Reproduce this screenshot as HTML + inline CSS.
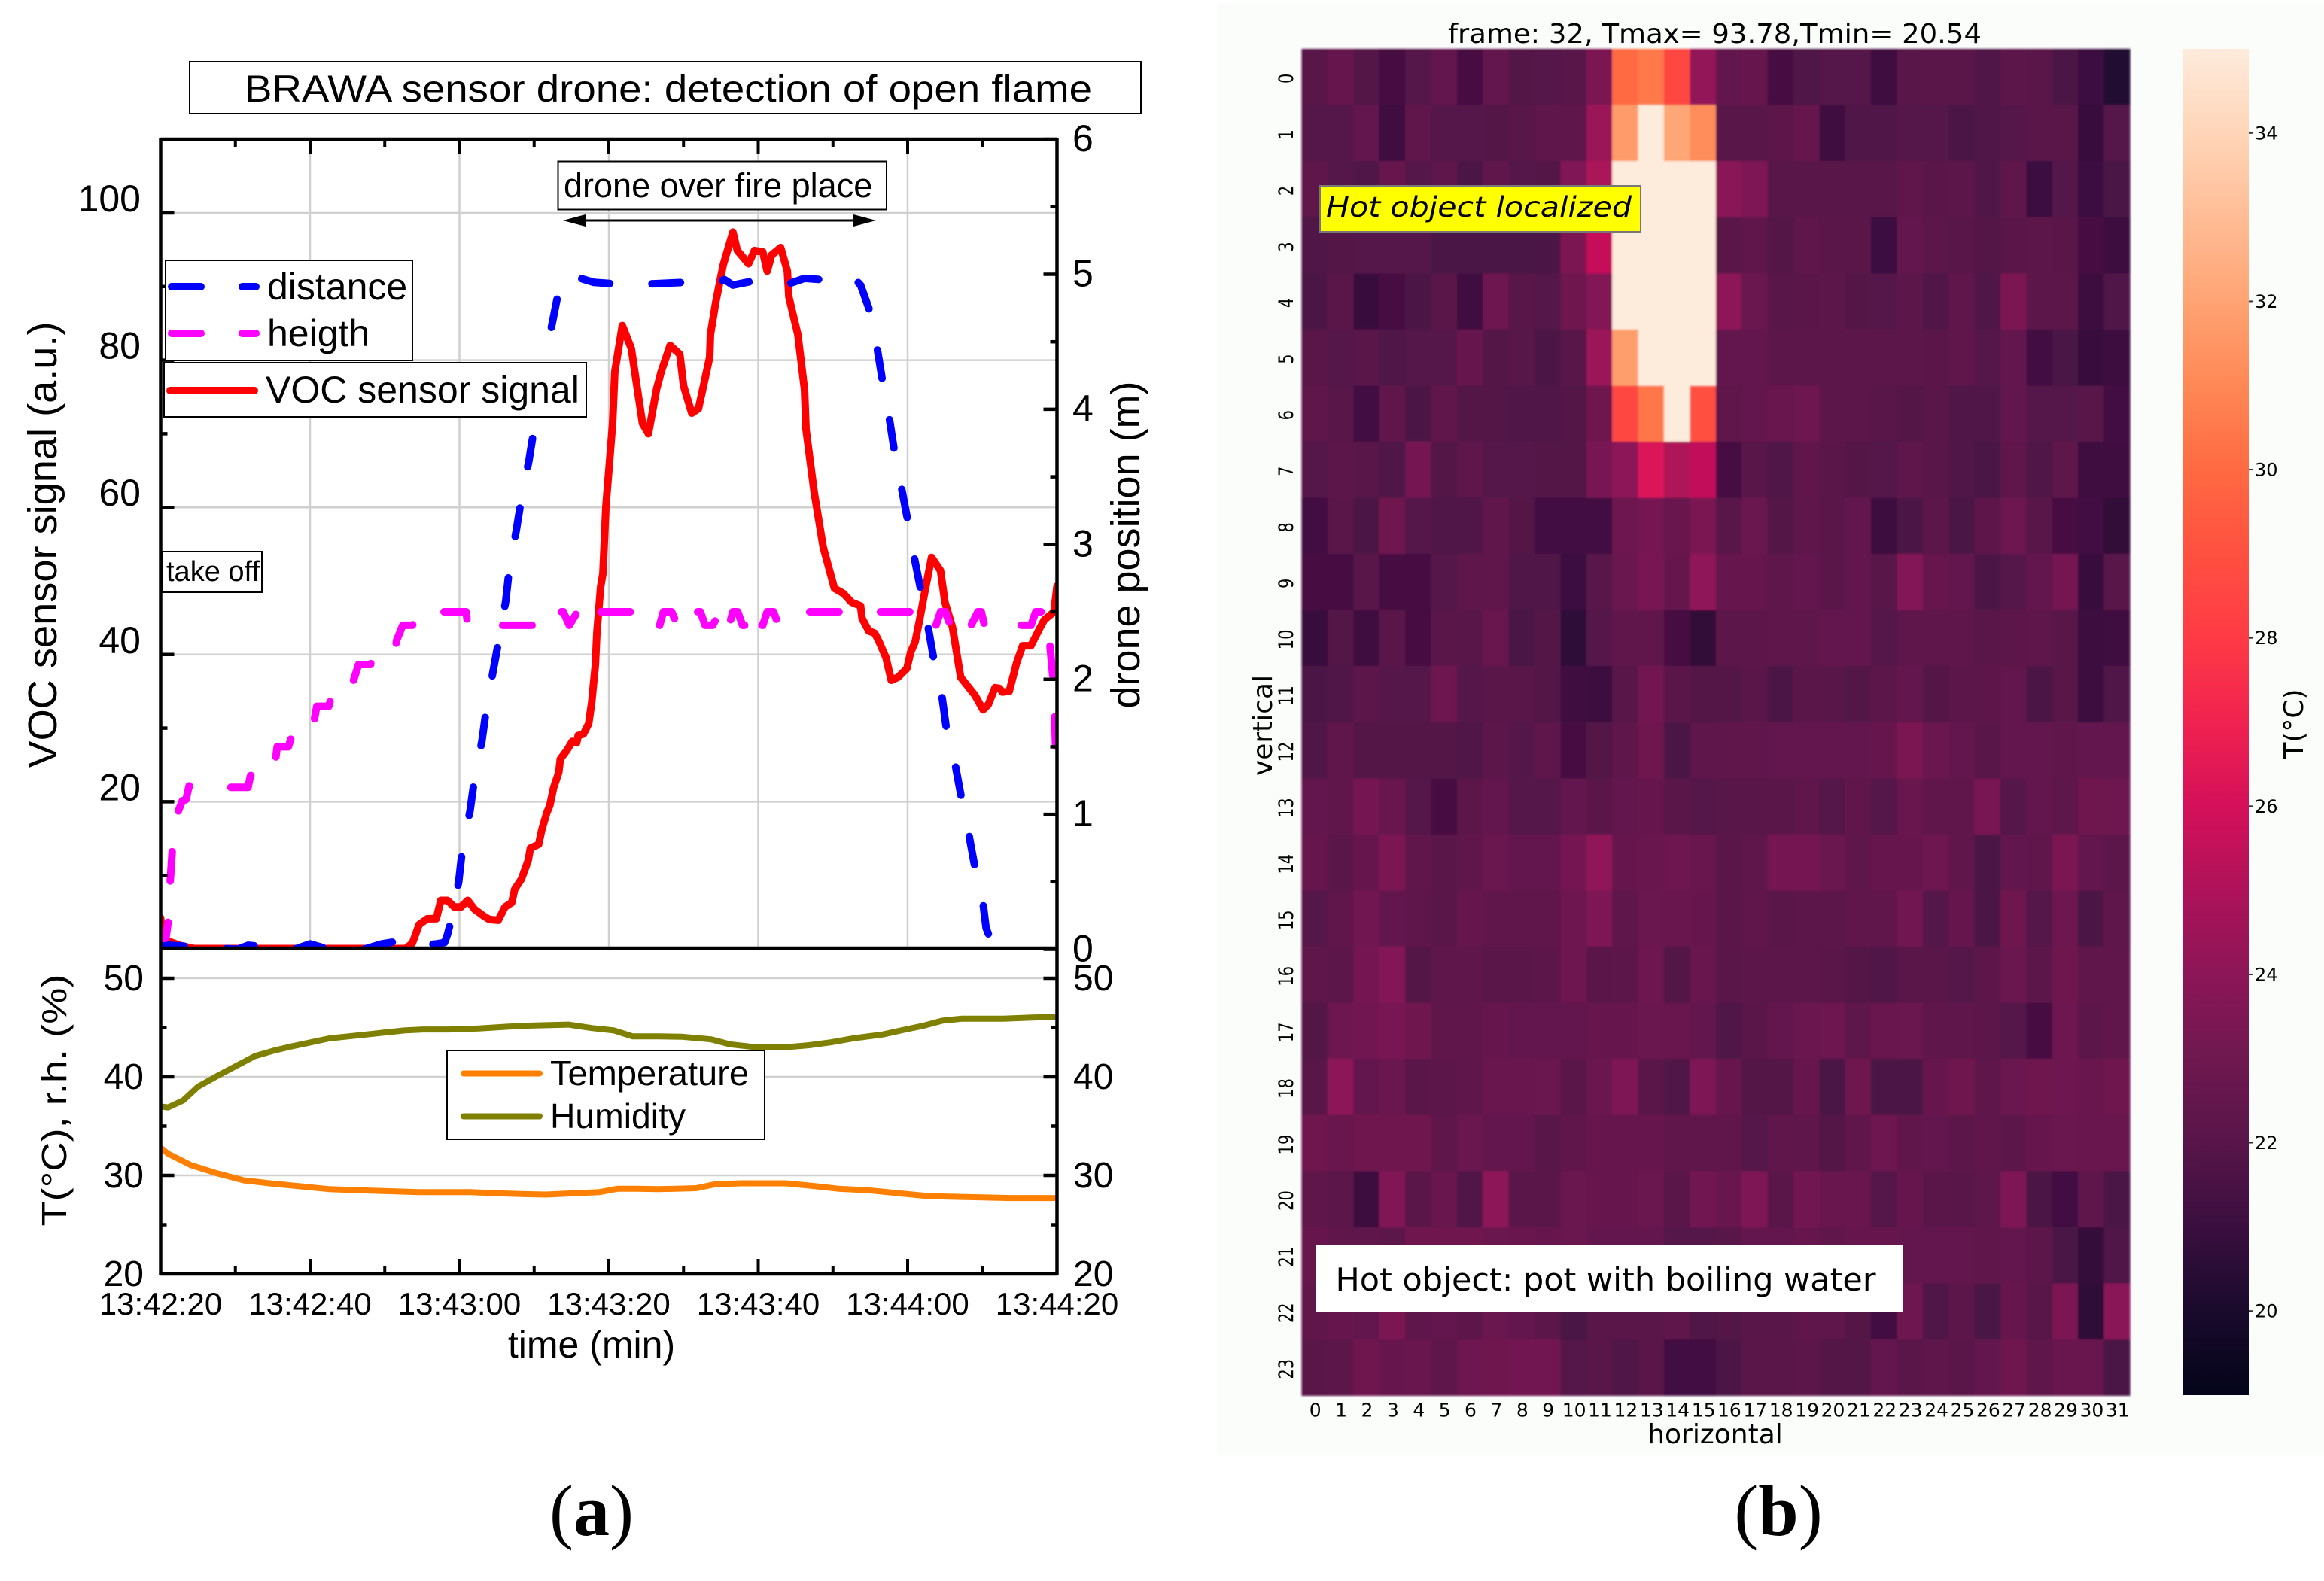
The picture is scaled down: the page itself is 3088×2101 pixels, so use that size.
<!DOCTYPE html>
<html lang="en">
<head>
<meta charset="utf-8">
<title>BRAWA sensor drone: detection of open flame</title>
<style>
html,body{margin:0;padding:0;background:#fff;}
svg{display:block;}
text{font-family:"Liberation Sans",sans-serif;fill:#000;}
.dj{font-family:"DejaVu Sans",sans-serif;}
.serif{font-family:"Liberation Serif",serif;font-weight:bold;}
</style>
</head>
<body>
<svg id="fig" xmlns="http://www.w3.org/2000/svg" width="3088" height="2101" viewBox="0 0 3088 2101">
  <defs>
    <clipPath id="upper-clip"><rect x="213.5" y="185" width="1191" height="1075"/></clipPath>
    <clipPath id="lower-clip"><rect x="213.5" y="1260" width="1191" height="433"/></clipPath>
    <linearGradient id="cbar-grad" x1="0" y1="1" x2="0" y2="0"></linearGradient>
    <filter id="soft" x="-1%" y="-1%" width="102%" height="102%"><feGaussianBlur stdDeviation="1.2"/></filter>
  </defs>
  <rect x="0" y="0" width="3088" height="2101" fill="#fff"/>
  <rect x="1619" y="4" width="1469" height="1930" fill="#fbfdfb"/>

  <g id="grid-layer"></g>
  <g id="voc-layer" clip-path="url(#upper-clip)"></g>
  <g id="pos-layer" clip-path="url(#upper-clip)"></g>
  <g id="env-layer" clip-path="url(#lower-clip)"></g>
  <g id="tick-layer"></g>
  <g stroke="#000" stroke-width="4.5" fill="none">
    <line x1="213.5" y1="183" x2="213.5" y2="1695"/>
    <line x1="1404.5" y1="183" x2="1404.5" y2="1695"/>
    <line x1="213.5" y1="185" x2="1404.5" y2="185"/>
    <line x1="213.5" y1="1260" x2="1404.5" y2="1260"/>
    <line x1="213.5" y1="1693" x2="1404.5" y2="1693"/>
  </g>
  <g id="label-layer"></g>

  <!-- Chart (a) annotations -->
  <rect x="252" y="82" width="1264" height="69" fill="#fff" stroke="#000" stroke-width="2"/>
  <text x="325" y="135" font-size="50" textLength="1126" lengthAdjust="spacingAndGlyphs">BRAWA sensor drone: detection of open flame</text>

  <text transform="translate(75,724) rotate(-90)" text-anchor="middle" font-size="54" textLength="593" lengthAdjust="spacingAndGlyphs">VOC sensor signal (a.u.)</text>
  <text transform="translate(1514,724) rotate(-90)" text-anchor="middle" font-size="54" textLength="435" lengthAdjust="spacingAndGlyphs">drone position (m)</text>
  <text transform="translate(88,1462) rotate(-90)" text-anchor="middle" font-size="46" textLength="335" lengthAdjust="spacingAndGlyphs">T(°C), r.h. (%)</text>
  <text x="786" y="1804" text-anchor="middle" font-size="50">time (min)</text>

  <g>
    <rect x="220" y="346" width="328" height="133" fill="#fff" stroke="#000" stroke-width="2"/>
    <g stroke="#0000ff" stroke-width="10" stroke-linecap="round">
      <line x1="228" y1="381" x2="267" y2="381"/>
      <line x1="322" y1="381" x2="340" y2="381"/>
    </g>
    <text x="355" y="398" font-size="50">distance</text>
    <g stroke="#ff00ff" stroke-width="10" stroke-linecap="round">
      <line x1="228" y1="443" x2="267" y2="443"/>
      <line x1="322" y1="443" x2="340" y2="443"/>
    </g>
    <text x="355" y="460" font-size="50">heigth</text>
  </g>
  <g>
    <rect x="218" y="482" width="561" height="72" fill="#fff" stroke="#000" stroke-width="2"/>
    <line x1="226" y1="519" x2="338" y2="519" stroke="#ff0000" stroke-width="10" stroke-linecap="round"/>
    <text x="353" y="535" font-size="50">VOC sensor signal</text>
  </g>
  <g>
    <rect x="216" y="733" width="132" height="54" fill="#fff" stroke="#000" stroke-width="2"/>
    <text x="221" y="772" font-size="38">take off</text>
  </g>
  <g>
    <rect x="741.5" y="214.5" width="436.5" height="64" fill="#fff" stroke="#000" stroke-width="2"/>
    <text x="749" y="262" font-size="45">drone over fire place</text>
    <line x1="770" y1="293" x2="1140" y2="293" stroke="#000" stroke-width="3"/>
    <polygon points="748,293 778,285 778,301" fill="#000"/>
    <polygon points="1164,293 1134,285 1134,301" fill="#000"/>
  </g>
  <g>
    <rect x="594" y="1396" width="422" height="118" fill="#fff" stroke="#000" stroke-width="2"/>
    <line x1="616" y1="1426.5" x2="717" y2="1426.5" stroke="#ff8000" stroke-width="8" stroke-linecap="round"/>
    <text x="731" y="1442" font-size="46" textLength="264" lengthAdjust="spacingAndGlyphs">Temperature</text>
    <line x1="616" y1="1483.5" x2="717" y2="1483.5" stroke="#808000" stroke-width="8" stroke-linecap="round"/>
    <text x="731" y="1499" font-size="46" textLength="180" lengthAdjust="spacingAndGlyphs">Humidity</text>
  </g>
  <text class="serif" x="786" y="2040" text-anchor="middle" font-size="96"><tspan font-weight="normal">(</tspan>a<tspan font-weight="normal">)</tspan></text>

  <!-- Chart (b) -->
  <text class="dj" x="1924" y="57" font-size="36" textLength="709" lengthAdjust="spacingAndGlyphs">frame: 32, Tmax= 93.78,Tmin= 20.54</text>
  <g id="heat-layer" shape-rendering="crispEdges" filter="url(#soft)"></g>
  <g id="heat-label-layer"></g>
  <rect x="2900" y="65" width="89" height="1789" fill="url(#cbar-grad)"/>
  <g id="cbar-layer"></g>
  <text class="dj" transform="translate(3060,962) rotate(-90)" text-anchor="middle" font-size="36">T(°C)</text>
  <text class="dj" transform="translate(1690,964) rotate(-90)" text-anchor="middle" font-size="36">vertical</text>
  <text class="dj" x="2279" y="1918" text-anchor="middle" font-size="36">horizontal</text>

  <g>
    <rect x="1754" y="247" width="426" height="61" fill="#ffff00" stroke="#777" stroke-width="2"/>
    <text class="dj" x="1762" y="288" font-size="37" font-style="italic" textLength="406" lengthAdjust="spacingAndGlyphs">Hot object localized</text>
  </g>
  <g>
    <rect x="1748" y="1655" width="780" height="89" fill="#fff"/>
    <text class="dj" x="1774.5" y="1715" font-size="42" textLength="718" lengthAdjust="spacingAndGlyphs">Hot object: pot with boiling water</text>
  </g>
  <text class="serif" x="2363" y="2040" text-anchor="middle" font-size="96"><tspan font-weight="normal">(</tspan>b<tspan font-weight="normal">)</tspan></text>
</svg>

<script>
// ---- Chart (a) data ----
const xTickSeconds = [0, 20, 40, 60, 80, 100, 120];
const xTickLabels = ["13:42:20", "13:42:40", "13:43:00", "13:43:20", "13:43:40", "13:44:00", "13:44:20"];
const xMinorSeconds = [10, 30, 50, 70, 90, 110];
const vocTicks = [20, 40, 60, 80, 100];
const vocMinorTicks = [10, 30, 50, 70, 90];
const positionTicks = [0, 1, 2, 3, 4, 5, 6];
const positionMinorTicks = [0.5, 1.5, 2.5, 3.5, 4.5, 5.5];
const envTicks = [20, 30, 40, 50];
const envMinorTicks = [25, 35, 45];

const vocTimes = [0, 0.2, 1.3, 2.7, 4.5, 32.8, 33.7, 34.6, 35.7, 36.9, 37.5, 38.4, 39.3, 40.2, 41.1, 42, 43.2, 44, 45.2, 46.1, 47, 47.4, 48.3, 49.2, 49.5, 50.6, 51, 51.7, 52.1, 52.6, 53.3, 53.5, 54.4, 55.1, 55.7, 55.9, 56.6, 57.3, 57.7, 58.2, 58.4, 58.9, 59.2, 59.6, 60.5, 60.8, 61.8, 63, 64.5, 65.3, 66.4, 67, 68.2, 69.5, 70, 71.1, 72, 73.5, 73.6, 74.3, 75.3, 76.6, 77.2, 78.7, 79.5, 80.6, 81.2, 81.8, 83, 83.9, 84.1, 85.3, 86.2, 86.4, 87.5, 88.7, 90.2, 91.4, 92.5, 93.7, 93.9, 94.8, 95.6, 96.2, 97.1, 97.8, 98.7, 99.9, 100.4, 101, 101.6, 102.3, 103.2, 104.4, 105, 106, 107.1, 109, 110.1, 110.8, 111.7, 112.3, 112.7, 113.6, 114.6, 115.4, 116.5, 117.7, 118.3, 119.6, 120];
const vocValues = [4.2, 1.5, 0.95, 0.44, 0.05, 0.05, 0.8, 3.3, 4.1, 4.1, 6.6, 6.6, 5.7, 5.7, 6.6, 5.4, 4.5, 4, 3.9, 5.7, 6.3, 8.1, 9.5, 12, 13.7, 14.2, 16.1, 18.5, 19.5, 21.9, 24, 25.8, 27, 28.2, 28, 29, 29.2, 30.6, 33.5, 38.6, 43, 49.2, 51, 60, 71.4, 78.4, 84.7, 81.6, 71.4, 70, 76.1, 78.4, 82, 80.8, 76.5, 72.8, 73.4, 80.4, 83.5, 87.8, 92.9, 97.4, 94.9, 93.1, 94.9, 94.7, 92.1, 94.3, 95.3, 92.1, 88.6, 83.5, 76, 70.6, 62, 54.6, 49, 48.3, 47.1, 46.6, 44.9, 43.2, 42.9, 41.7, 39.6, 36.5, 36.9, 38.1, 40.3, 41.7, 44.7, 48.5, 53.2, 51.4, 47.1, 43.7, 36.9, 34.5, 32.5, 33.2, 35.5, 35.4, 34.9, 35, 38.9, 41.2, 41.2, 43.6, 44.7, 45.8, 49.3];

const distanceTimes = [0, 1.1, 4, 10.3, 11.7, 13.5, 14.2, 17.9, 20, 22.5, 27.2, 29.6, 31.9, 33.3, 36.9, 38, 38.4, 38.9, 39.9, 40.4, 41.4, 42, 43, 43.6, 44.5, 45.3, 46.2, 46.7, 47.6, 48.3, 49.3, 50, 51.5, 52.5, 53.4, 54.6, 56.8, 58, 60.7, 66, 70, 74.9, 75.5, 76.6, 79.3, 84.1, 86.2, 88.6, 92.7, 93.7, 94.8, 95.9, 96.6, 97.5, 98.2, 99.1, 100, 100.9, 102.7, 103.5, 104.6, 105.2, 106.4, 107.2, 108.2, 109, 110.1, 110.5, 110.9, 111.6];
const distanceValues = [0.02, 0.03, 0.02, 0, 0.03, 0.02, 0, 0, 0.04, 0, 0, 0.04, 0.06, 0.02, 0.04, 0.05, 0.11, 0.22, 0.5, 0.75, 1.02, 1.26, 1.54, 1.78, 2.06, 2.3, 2.58, 2.83, 3.1, 3.34, 3.62, 3.86, 4.39, 4.66, 4.91, 5.0, 4.96, 4.94, 4.93, 4.93, 4.94, 4.95, 4.96, 4.92, 4.95, 4.93, 4.97, 4.96, 4.98, 4.92, 4.75, 4.46, 4.22, 3.95, 3.7, 3.44, 3.18, 2.9, 2.4, 2.15, 1.87, 1.63, 1.36, 1.12, 0.85, 0.61, 0.34, 0.16, 0.1, 0];

const heightTimes = [0, 0.7, 1, 1.25, 1.56, 2.2, 2.9, 3.4, 3.8, 4.1, 11.7, 12, 12.2, 15.2, 15.4, 15.6, 17.1, 17.5, 17.8, 20.5, 20.6, 20.9, 22.5, 22.8, 23, 25.6, 25.8, 26.5, 28.1, 28.3, 28.6, 31.3, 31.6, 32.4, 33.7, 33.9, 34.2, 40.9, 41.1, 52, 52.2, 53.9, 54.7, 55.8, 57, 57.1, 57.2, 63.8, 64, 66.8, 67.3, 68.4, 68.8, 68.9, 70.5, 70.7, 72.25, 72.9, 73.9, 74.3, 74.7, 75.3, 75.5, 76, 76.3, 76.6, 77.25, 77.9, 79, 79.2, 79.4, 80.6, 81.2, 82.05, 82.6, 84, 85, 101.5, 101.6, 101.7, 102.8, 103, 103.8, 104.4, 105.05, 105.7, 106.5, 106.6, 106.7, 108.5, 109.4, 109.85, 110.25, 110.4, 112, 112.1, 112.2, 115.3, 116.5, 117.15, 118, 118.8, 119.05, 119.45, 119.7, 119.8, 120];
const heightValues = [0.03, 0.08, 0.2, 0.48, 0.74, 1, 1.1, 1.11, 1.21, 1.2, 1.2, 1.28, 1.3, 1.3, 1.41, 1.5, 1.5, 1.57, 1.6, 1.6, 1.71, 1.8, 1.8, 1.86, 1.9, 1.9, 1.99, 2.11, 2.11, 2.15, 2.2, 2.2, 2.29, 2.4, 2.4, 2.42, 2.5, 2.5, 2.4, 2.4, 2.5, 2.5, 2.4, 2.5, 2.5, 2.44, 2.5, 2.5, 2.4, 2.4, 2.5, 2.5, 2.45, 2.4, 2.4, 2.5, 2.5, 2.4, 2.4, 2.44, 2.5, 2.5, 2.38, 2.4, 2.44, 2.5, 2.5, 2.4, 2.4, 2.5, 2.4, 2.4, 2.5, 2.5, 2.42, 2.42, 2.5, 2.5, 2.485, 2.5, 2.5, 2.4, 2.4, 2.5, 2.5, 2.4, 2.4, 2.465, 2.4, 2.4, 2.5, 2.5, 2.41, 2.4, 2.4, 2.415, 2.4, 2.4, 2.4, 2.5, 2.5, 2.5, 2.25, 2.015, 1.72, 1.52, 1.4];

const humidityTimes = [0, 1, 3, 5, 7.6, 10.1, 12.6, 15.1, 17.6, 20.1, 22.6, 25.1, 27.6, 30.1, 32.6, 35.1, 38.6, 42.6, 46.6, 49.6, 54.6, 57.7, 60.7, 63.2, 66.7, 69.7, 73.7, 76.2, 79.7, 83.7, 86.7, 89.7, 92.7, 96.7, 99.7, 102.2, 104.7, 107.3, 112.8, 116.3, 120];
const humidityValues = [37, 36.9, 37.6, 39, 40.1, 41.1, 42.1, 42.65, 43.1, 43.5, 43.9, 44.1, 44.3, 44.5, 44.7, 44.8, 44.8, 44.9, 45.1, 45.2, 45.3, 44.95, 44.7, 44.1, 44.1, 44.07, 43.8, 43.3, 43, 43, 43.2, 43.5, 43.9, 44.3, 44.8, 45.2, 45.7, 45.9, 45.9, 46, 46.1];
const temperatureTimes = [0, 1, 4, 7.6, 11.1, 14.6, 18.6, 22.6, 26.6, 30.6, 34.6, 41.6, 44.6, 48.6, 51.6, 55.6, 58.7, 61.2, 63.7, 66.7, 71.7, 74.2, 77.7, 83.7, 87.7, 90.7, 94.7, 98.7, 102.7, 107.8, 113.8, 120];
const temperatureValues = [32.8, 32.2, 31.05, 30.2, 29.5, 29.2, 28.9, 28.6, 28.5, 28.4, 28.3, 28.3, 28.2, 28.1, 28.05, 28.2, 28.3, 28.65, 28.65, 28.6, 28.7, 29.1, 29.2, 29.2, 28.9, 28.65, 28.5, 28.2, 27.9, 27.8, 27.7, 27.7];

// ---- Chart (b) data (deg C) ----
const heatRowLabels = ["0","1","2","3","4","5","6","7","8","9","10","11","12","13","14","15","16","17","18","19","20","21","22","23"];
const heatColLabels = ["0","1","2","3","4","5","6","7","8","9","10","11","12","13","14","15","16","17","18","19","20","21","22","23","24","25","26","27","28","29","30","31"];
const heatRow00 = [22,22.6,21.8,21.4,21.9,22.5,21.4,22.5,21.8,21.9,22,23.4,30,30.5,28.6,24.2,22.5,22.6,21.4,21.7,21.9,21.9,21.2,22,22.1,22.1,21.7,22.2,22.1,21.6,21,20.2];
const heatRow01 = [21.9,21.9,22.5,21.2,22.4,21.9,21.9,21.8,22,22.3,22.3,24.4,31.7,35,32.1,31.2,22,22,22.2,22.6,21.2,21.7,21.7,21.9,21.9,21.6,21.7,21.9,22.1,22,20.9,21.9];
const heatRow02 = [22.3,21.9,21.7,22.6,21.9,22.3,21.6,22.4,21.9,21.8,23.6,24.9,35,35,35,35,23.9,23.5,22,22,22,22,22,22.4,22.1,22.2,21.7,22.4,21,21.9,21,21.5];
const heatRow03 = [21.7,21.8,21.9,21.9,21.9,21.5,21.5,21.5,21.5,21.6,23.4,25.6,35,35,35,35,22.1,22.4,21.8,22.3,22.1,22.1,21,22.5,22.2,22,21.8,22.1,22.2,22.1,21.4,21.1];
const heatRow04 = [21.6,22.1,20.9,21.4,21.6,22.1,21.2,22.9,22,21.9,23,23.7,35,35,35,35,24,22.8,22,22.1,22.2,21.8,21.9,22.2,21.7,22.4,21.7,23.4,22.2,22.2,21.1,21.7];
const heatRow05 = [22.1,21.9,22.1,21.7,21.9,21.9,22.6,21.8,22,21.6,22,24.4,31.8,35,35,35,22.5,22.5,22.2,22.2,22.2,22.2,22.2,22.2,22.1,22.4,21.9,22.5,21.3,21.5,20.9,21.1];
const heatRow06 = [22.3,22,21.3,22.4,21.6,22.4,21.8,21.8,21.7,21.7,21.8,23,28.6,30.4,35,29,22.4,22.5,22.7,22.9,22.2,22.2,22,21.8,22.1,21.7,21.7,22.5,21.9,21.9,22,21.3];
const heatRow07 = [21.9,22.2,22,21.7,23.2,21.8,22.3,21.9,21.9,21.8,21.8,23.3,24,26.2,25,25.5,21.4,22,21.7,22.4,22.1,21.8,21.9,22.3,22,21.7,21.5,22.4,21.7,22.3,21.2,21.2];
const heatRow08 = [21.3,22.1,21.6,23,21.9,21.7,21.7,22.4,21.8,21.3,21.3,21.3,22.9,23.2,22.7,23.4,22,22.8,21.8,22.3,22.1,22.5,21.1,21.6,22.2,21.5,22.2,22.9,22,21.4,21.3,20.7];
const heatRow09 = [21.4,21.4,22,21.4,21.4,21.9,22.3,22.4,21.7,21.7,21,22,22.8,23.3,22.6,24.1,22.6,22.6,22.3,22.5,22.1,22.5,22,23.7,22.6,22.5,21.6,21.9,22.5,23.2,20.9,22];
const heatRow10 = [20.9,21.8,21.2,22.1,21.4,22.1,22,22.7,21.5,21.8,20.6,21.9,22.4,22.4,21.4,20.7,22.2,22.2,22.3,22.3,22.5,22.5,21.9,22.3,22.3,22.3,22.1,22.2,22.3,22,21.1,21.2];
const heatRow11 = [21.6,21.7,22.2,21.9,21.9,22.9,21.9,22.1,22,21.8,21.2,21.1,22,23.1,22.1,21.8,21.8,22.1,21.6,22.1,22,21.8,22.2,22.5,21.8,22.2,22.2,22.5,21.6,22,21.1,21.7];
const heatRow12 = [21.7,22.4,21.8,21.8,21.8,21.8,21.7,22.2,21.9,22.3,21.4,21.8,22.3,23,21.6,22.3,22.4,22.4,22.5,22.5,22.5,22.5,22.6,23.4,22.8,22.5,22,22.5,22.5,22.4,22.5,22.5];
const heatRow13 = [22.5,22.4,23.2,22.7,21.9,21.4,22.2,22.5,21.9,21.9,22.5,22.1,22.5,22.6,22.1,21.9,22,22,22.1,22.3,21.9,22.4,21.9,22.7,22.4,22.4,23.3,21.9,22.5,22.3,23,22.9];
const heatRow14 = [22.6,22.1,22.6,23.4,22.4,22.1,22.4,22.8,22.5,22.5,23.2,24.1,22.6,22.7,22.9,22.7,22.1,22.3,23.2,23.2,22.8,22.3,22.6,22.6,22.9,22.4,21.6,22.5,22.4,23.4,22.5,22.2];
const heatRow15 = [21.9,22.4,23.1,22.5,22.3,22.1,22.6,22.4,22.4,22.4,22.9,23.5,22.3,22.8,22.7,22.6,22.1,22.4,22.1,22.2,22.2,22.4,22.4,23.1,21.9,22.6,21.6,23,21.9,22.9,21.6,22.3];
const heatRow16 = [22.3,22.2,23.2,23.7,21.8,22.3,22.3,22.1,22.1,22.2,22.9,22.1,22.2,22.9,21.8,22.7,22.1,22.2,22.2,22.2,22.1,21.8,21.7,22.1,22.1,21.9,22.2,22.8,22.2,23,22.4,22.4];
const heatRow17 = [21.8,22.9,23.1,23.3,23,22.4,22.4,22.6,22.5,22.5,22.5,22.6,22.6,22.8,22.7,22.5,21.7,22.1,22.5,22.8,22.9,22.3,22.7,22.8,22.3,22.3,22.2,21.9,21.4,22.9,22.2,22.4];
const heatRow18 = [22,24,22.5,22.8,22.1,22.2,22.3,22.7,22.7,22.8,22.1,22.8,23.5,22.1,21.7,23.5,22.6,21.8,21.8,22.6,21.5,23,21.6,21.6,22.6,23,22.3,22.8,23,22.9,22.7,23];
const heatRow19 = [23,22.7,23,23,23,22.3,22.8,22.5,22.5,22,22.4,22.6,22.6,22.6,22.4,22.4,22.4,21.9,22.4,22.3,21.8,22.4,22.9,22.4,22.5,22.2,22.4,22.2,22.6,22.8,22.7,22.7];
const heatRow20 = [22.3,22.2,21.1,23.6,22.1,22.7,21.7,24,22.1,22.1,22.8,22.6,22.6,22.8,22.1,23.1,22.7,23.5,22.1,23.1,22.7,22.7,21.9,22.6,22.1,22,22.3,23.5,21.6,21.3,22.3,21.5];
const heatRow21 = [22.6,22.4,22.3,22.2,23,23,23,22.8,22.7,22.6,22.8,22.5,22.5,22.5,21.9,21.9,22,22.5,22.5,22.6,22.4,22.6,22.6,22.5,22.5,22.5,22.4,22.5,22.2,21.5,20.8,21.7];
const heatRow22 = [22.4,22.6,22.5,23.4,22.3,22.5,22.2,22.8,22.5,22.2,21.5,22,22.1,22.1,22.3,21.7,21.8,22,22,22.4,22.3,21.8,21.3,22.9,21.7,22.2,21.5,22.6,22,23.4,20.6,23.9];
const heatRow23 = [22.1,22.2,23,22.6,22.7,22.3,22.9,23,23.1,23.1,21.9,22,21.7,22.1,21.3,21.3,21.6,22.1,22.1,22.2,21.8,21.8,22.5,22.1,22.3,22.1,22.5,23,22.3,22.7,22.7,21.5];
const heatRows = [heatRow00,heatRow01,heatRow02,heatRow03,heatRow04,heatRow05,heatRow06,heatRow07,heatRow08,heatRow09,heatRow10,heatRow11,heatRow12,heatRow13,heatRow14,heatRow15,heatRow16,heatRow17,heatRow18,heatRow19,heatRow20,heatRow21,heatRow22,heatRow23];
const colorbarTicks = [20, 22, 24, 26, 28, 30, 32, 34];
const colormapMin = 19;
const colormapMax = 35;
const colormapColors = ["#03051a","#1a0a2c","#3a0f3f","#581549","#6f1850","#8c1658","#ae1259","#d5105a","#f0224f","#ff3a45","#ff5040","#ff6a42","#ff8856","#ffa373","#ffbd96","#ffd5b8","#fdebdc"];

// ---- Axis functions ----
const X0 = 213.5, PX_PER_SEC = 9.925;
function xTime(t) { return X0 + t * PX_PER_SEC; }
function yVoc(v) { return 1261 - v * 9.78; }
function yPosition(d) { return 1261.5 - d * 179.4; }
function yEnv(v) { return 1693 - (v - 20) * 13.1; }
const HEAT_X0 = 1729.5, HEAT_Y0 = 65, CELL_W = 1100.5 / 32, CELL_H = 1789.5 / 24;
function xCol(i) { return HEAT_X0 + i * CELL_W; }
function yRow(j) { return HEAT_Y0 + j * CELL_H; }
function yColorbar(v) { return 1854 - (v - colormapMin) * (1789 / (colormapMax - colormapMin)); }

const NS = "http://www.w3.org/2000/svg";
function mk(tag, parentId, attrs) {
  const el = document.createElementNS(NS, tag);
  for (const k in attrs) el.setAttribute(k, attrs[k]);
  document.getElementById(parentId).appendChild(el);
  return el;
}
function pointsOf(times, values, yFn) {
  return times.map(function (t, i) { return xTime(t).toFixed(1) + "," + yFn(values[i]).toFixed(1); }).join(" ");
}
function hexToRgb(h) { return [parseInt(h.substr(1, 2), 16), parseInt(h.substr(3, 2), 16), parseInt(h.substr(5, 2), 16)]; }
function heatColor(v) {
  const p = Math.max(0, Math.min(colormapColors.length - 1.001, v - colormapMin));
  const i = Math.floor(p), f = p - i;
  const a = hexToRgb(colormapColors[i]), b = hexToRgb(colormapColors[i + 1]);
  return "rgb(" + Math.round(a[0] + (b[0] - a[0]) * f) + "," + Math.round(a[1] + (b[1] - a[1]) * f) + "," + Math.round(a[2] + (b[2] - a[2]) * f) + ")";
}

// ---- Grid ----
xTickSeconds.slice(1, -1).forEach(function (t) {
  const el = mk("line", "grid-layer", { x1: xTime(t), x2: xTime(t), y1: 185, y2: 1260, stroke: "#d0d0d0", "stroke-width": 2.5 });
  
  
});
vocTicks.forEach(function (v) {
  const el = mk("line", "grid-layer", { x1: X0, x2: 1404.5, y1: yVoc(v), y2: yVoc(v), stroke: "#d0d0d0", "stroke-width": 2.5 });
  
  
});
envTicks.slice(1).forEach(function (v) {
  const el = mk("line", "grid-layer", { x1: X0, x2: 1404.5, y1: yEnv(v), y2: yEnv(v), stroke: "#d0d0d0", "stroke-width": 2.5 });
  
  
});

// ---- Series ----
const vocLine = mk("polyline", "voc-layer", { points: pointsOf(vocTimes, vocValues, yVoc), fill: "none", stroke: "#ff0000", "stroke-width": 10, "stroke-linejoin": "round", "stroke-linecap": "round" });


const heightLine = mk("polyline", "pos-layer", { points: pointsOf(heightTimes, heightValues, yPosition), fill: "none", stroke: "#ff00ff", "stroke-width": 10, "stroke-linejoin": "round", "stroke-linecap": "round", "stroke-dasharray": "39 55", "stroke-dashoffset": 6 });


const distanceLine = mk("polyline", "pos-layer", { points: pointsOf(distanceTimes, distanceValues, yPosition), fill: "none", stroke: "#0000ff", "stroke-width": 10, "stroke-linejoin": "round", "stroke-linecap": "round", "stroke-dasharray": "38 56", "stroke-dashoffset": 6.5 });


const tempLine = mk("polyline", "env-layer", { points: pointsOf(temperatureTimes, temperatureValues, yEnv), fill: "none", stroke: "#ff8000", "stroke-width": 8, "stroke-linejoin": "round" });


const humLine = mk("polyline", "env-layer", { points: pointsOf(humidityTimes, humidityValues, yEnv), fill: "none", stroke: "#808000", "stroke-width": 8, "stroke-linejoin": "round" });



// ---- Ticks ----
function tick(x1, y1, x2, y2, w) {
  const el = mk("line", "tick-layer", { x1: x1, y1: y1, x2: x2, y2: y2, stroke: "#000", "stroke-width": w });
  
  
}
xTickSeconds.slice(1, -1).forEach(function (t) {
  tick(xTime(t), 185, xTime(t), 205, 4);
  tick(xTime(t), 1693, xTime(t), 1673, 4);
});
xMinorSeconds.forEach(function (t) {
  tick(xTime(t), 185, xTime(t), 195, 4);
  tick(xTime(t), 1693, xTime(t), 1683, 4);
});
vocTicks.forEach(function (v) { tick(X0, yVoc(v), X0 + 18, yVoc(v), 4.5); });
vocMinorTicks.forEach(function (v) { tick(X0, yVoc(v), X0 + 9, yVoc(v), 4.5); });
positionTicks.forEach(function (d) { tick(1404.5, yPosition(d), 1386.5, yPosition(d), 4.5); });
positionMinorTicks.forEach(function (d) { tick(1404.5, yPosition(d), 1395.5, yPosition(d), 4.5); });
envTicks.slice(1).forEach(function (v) {
  tick(X0, yEnv(v), X0 + 18, yEnv(v), 4.5);
  tick(1404.5, yEnv(v), 1386.5, yEnv(v), 4.5);
});
envMinorTicks.forEach(function (v) {
  tick(X0, yEnv(v), X0 + 8, yEnv(v), 4.5);
  tick(1404.5, yEnv(v), 1396.5, yEnv(v), 4.5);
});

// ---- Tick labels ----
function label(parentId, x, y, str, size, anchor, extra) {
  const attrs = { x: x, y: y, "font-size": size, "text-anchor": anchor };
  for (const k in (extra || {})) attrs[k] = extra[k];
  const el = mk("text", parentId, attrs);
  el.textContent = str;
  return el;
}
vocTicks.forEach(function (v) {
  const el = label("label-layer", 187, yVoc(v) - 2, String(v), 50, "end");
  
  
});
positionTicks.forEach(function (d) {
  const el = label("label-layer", 1425, yPosition(d) + 16, String(d), 50, "start");
  
  
});
envTicks.forEach(function (v) {
  const l = label("label-layer", 191, yEnv(v) + 16, String(v), 48, "end");
  
  
  const r = label("label-layer", 1426, yEnv(v) + 16, String(v), 48, "start");
  
  
});
xTickSeconds.forEach(function (t, i) {
  const el = label("label-layer", xTime(t), 1747, xTickLabels[i], 42, "middle");
  
  
});

// ---- Heatmap ----
heatRows.forEach(function (row, j) {
  row.forEach(function (v, i) {
    const el = mk("rect", "heat-layer", { x: xCol(i).toFixed(2), y: yRow(j).toFixed(2), width: (CELL_W + 0.6).toFixed(2), height: (CELL_H + 0.6).toFixed(2), fill: heatColor(v) });
    
    
  });
});
heatRowLabels.forEach(function (s, j) {
  const y = yRow(j) + CELL_H / 2 + 2;
  const el = label("heat-label-layer", 0, 0, s, 21, "middle", { "class": "dj", transform: "translate(1718," + y.toFixed(1) + ") rotate(-90) scale(1,1.28)" });
  
  
});
heatColLabels.forEach(function (s, i) {
  const x = xCol(i) + CELL_W / 2 + 1;
  const el = label("heat-label-layer", x.toFixed(1), 1882.5, s, 25, "middle", { "class": "dj" });
  
  
});

// ---- Colorbar ----
colormapColors.forEach(function (c, i) {
  const s = mk("stop", "cbar-grad", { offset: (i / (colormapColors.length - 1)).toFixed(4), "stop-color": c });
  
  
});
colorbarTicks.forEach(function (v) {
  const t = mk("line", "cbar-layer", { x1: 2989, x2: 2994, y1: yColorbar(v), y2: yColorbar(v), stroke: "#333", "stroke-width": 2 });
  
  
  const el = label("cbar-layer", 2996, yColorbar(v) + 8.5, String(v), 24, "start", { "class": "dj" });
  
  
});
</script>
</body>
</html>
